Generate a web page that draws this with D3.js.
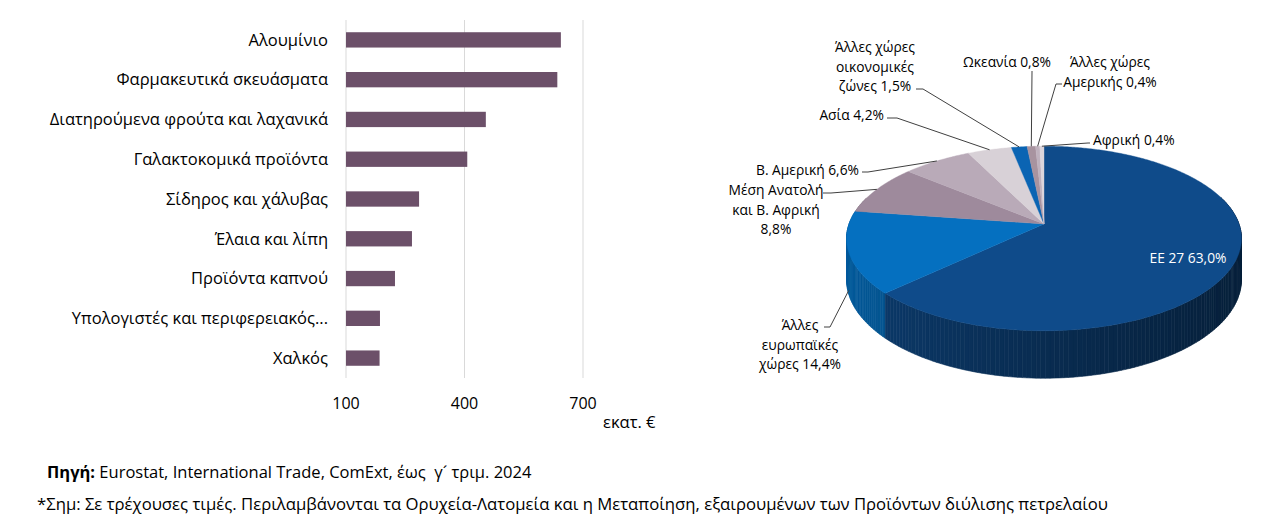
<!DOCTYPE html>
<html>
<head>
<meta charset="utf-8">
<script src="https://cdn.jsdelivr.net/npm/d3@7"></script>
<style>
  body { margin: 0; background: #fff; }
  svg { display: block; font-family: "Open Sans", sans-serif; }
</style>
</head>
<body>
<svg id="chart" width="1281" height="521"></svg>
<script>
// Bar chart data (εκατ. €)
const categories = ["Αλουμίνιο", "Φαρμακευτικά σκευάσματα", "Διατηρούμενα φρούτα και λαχανικά",
  "Γαλακτοκομικά προϊόντα", "Σίδηρος και χάλυβας", "Έλαια και λίπη", "Προϊόντα καπνού",
  "Υπολογιστές και περιφερειακός...", "Χαλκός"];
const values = [644, 635, 454, 407, 285, 267, 224, 186, 185];
const xTicks = [100, 400, 700];

// Pie data (% share), "\n" marks label line breaks
const regions = ["ΕΕ 27", "Άλλες\nευρωπαϊκές\nχώρες", "Μέση Ανατολή\nκαι Β. Αφρική\n", "Β. Αμερική",
  "Ασία", "Άλλες χώρες\nοικονομικές\nζώνες", "Ωκεανία", "Άλλες χώρες\nΑμερικής", "Αφρική"];
const shares = [63.0, 14.4, 8.8, 6.6, 4.2, 1.5, 0.8, 0.4, 0.4];
const regionColors = ["#0f4b8a", "#0570c0", "#9e8a9c", "#b9aab8", "#d8d1d7", "#0b64b3", "#a8939f", "#bfb1bd", "#dcd5db"];

const svg = d3.select("#chart");
const font = 16.5;     // bar labels, footer
const pieFont = 13.8;  // pie labels

// ---------- bar chart ----------
const x = d3.scaleLinear().domain([100, 700]).range([346, 583]);
const y = d3.scaleBand().domain(categories).range([20, 378])
  .paddingInner(0.615).paddingOuter(0.3075);

svg.append("g").selectAll("line")
  .data(xTicks)
  .join("line")
  .attr("x1", d => x(d)).attr("x2", d => x(d))
  .attr("y1", 20).attr("y2", 378)
  .attr("stroke", "#d9d9d9").attr("stroke-width", 1);

svg.append("g").selectAll("rect")
  .data(categories)
  .join("rect")
  .attr("x", x(100))
  .attr("y", d => y(d))
  .attr("width", (d, i) => x(values[i]) - x(100))
  .attr("height", y.bandwidth())
  .attr("fill", "#6c5069");

svg.append("g").selectAll("text")
  .data(categories)
  .join("text")
  .attr("x", 328)
  .attr("y", d => y(d) + y.bandwidth() / 2)
  .attr("dy", "0.35em")
  .attr("text-anchor", "end")
  .attr("font-size", font)
  .attr("fill", "#000")
  .text(d => d);

svg.append("g").selectAll("text")
  .data(xTicks)
  .join("text")
  .attr("x", d => x(d))
  .attr("y", 409)
  .attr("text-anchor", "middle")
  .attr("font-size", 16)
  .text(d => d);

svg.append("text").attr("x", 603).attr("y", 428)
  .attr("font-size", font).text("εκατ. €");

// ---------- 3D pie ----------
const cx = 1044, cy = 224, R = 195, Ry = 90, k = 0.157, D = 40;
// perspective projection of a point on the pie disc (angle clockwise from top, radius 0..1, depth 0..1)
function proj(a, r, h) {
  const u = r * Math.sin(a), v = -r * Math.cos(a);
  const w = 1 / (1 - k * v);
  return [cx + R * u * w, cy + (Ry * v + D * h) * w];
}

const pie = d3.pie().sort(null).value(d => d)(shares);
const gPie = svg.append("g");

// side walls, split into small segments, drawn back to front
const segs = [];
pie.forEach((p, i) => {
  const n = Math.max(1, Math.ceil((p.endAngle - p.startAngle) / 0.02));
  const step = (p.endAngle - p.startAngle) / n;
  for (let j = 0; j < n; j++) {
    const a0 = p.startAngle + j * step, a1 = a0 + step;
    const am = (a0 + a1) / 2;
    segs.push({ i, a0, a1, v: -Math.cos(am), u: Math.sin(am) });
  }
});
segs.filter(s => s.v > -0.3).sort((a, b) => a.v - b.v).forEach(s => {
  const pts = [proj(s.a0, 1, 0), proj(s.a1, 1, 0), proj(s.a1, 1, 1), proj(s.a0, 1, 1)];
  const c = d3.color(regionColors[s.i]).darker(0.55 + 1.9 * (s.u + 1) / 2);
  gPie.append("path")
    .attr("d", "M" + pts.join("L") + "Z")
    .attr("fill", c).attr("stroke", c).attr("stroke-width", 0.6);
});

// top faces
pie.forEach((p, i) => {
  const pts = [proj(0, 0, 0)];
  const n = Math.max(2, Math.ceil((p.endAngle - p.startAngle) / 0.01));
  for (let j = 0; j <= n; j++) {
    pts.push(proj(p.startAngle + (p.endAngle - p.startAngle) * j / n, 1, 0));
  }
  gPie.append("path")
    .attr("d", "M" + pts.join("L") + "Z")
    .attr("fill", regionColors[i]).attr("stroke", regionColors[i]).attr("stroke-width", 0.4);
});

// labels: position of text block and leader line start/elbow
const labelLayout = [
  { x: 1188, y: 263, anchor: "middle", fill: "#fff" },
  { x: 800, y: 330, anchor: "middle", from: [824, 327], elbow: [830, 327], h: 0.9 },
  { x: 776, y: 195, anchor: "middle", from: [823, 193], elbow: [831, 193] },
  { x: 859, y: 175, anchor: "end", from: [862, 172], elbow: [868, 172] },
  { x: 884, y: 120, anchor: "end", from: [887, 118], elbow: [897, 118] },
  { x: 875, y: 52, anchor: "middle", from: [916, 89], elbow: [923, 89] },
  { x: 1007, y: 67, anchor: "middle", from: [1032, 71], elbow: [1032, 72] },
  { x: 1110, y: 67, anchor: "middle", from: [1062, 84], elbow: [1056, 84] },
  { x: 1093, y: 145, anchor: "start", from: [1090, 143], elbow: [1088, 143] }
];
const fmt = v => d3.format(".1f")(v).replace(".", ",") + "%";

pie.forEach((p, i) => {
  const L = labelLayout[i];
  const name = regions[i];
  const txt = name.endsWith("\n") ? name + fmt(shares[i]) : name + " " + fmt(shares[i]);
  const lines = txt.split("\n");
  const t = gPie.append("text")
    .attr("text-anchor", L.anchor)
    .attr("font-size", pieFont)
    .attr("fill", L.fill || "#000");
  lines.forEach((ln, j) => {
    t.append("tspan").attr("x", L.x).attr("y", L.y + j * 19.5).text(ln);
  });
  if (L.from) {
    const mid = (p.startAngle + p.endAngle) / 2;
    const end = proj(mid, 1, L.h || 0);
    gPie.append("path")
      .attr("d", "M" + [L.from, L.elbow, end].join("L"))
      .attr("fill", "none").attr("stroke", "#404040").attr("stroke-width", 1);
  }
});

// ---------- footer ----------
const f1 = svg.append("text").attr("x", 47).attr("y", 478).attr("font-size", font);
f1.append("tspan").attr("font-weight", "bold").text("Πηγή:");
f1.append("tspan").text(" Eurostat, International Trade, ComExt, έως\u00A0 γ\u00B4 τριμ. 2024");
svg.append("text").attr("x", 37).attr("y", 510).attr("font-size", 16.7)
  .text("*Σημ: Σε τρέχουσες τιμές. Περιλαμβάνονται τα Ορυχεία-Λατομεία και η Μεταποίηση, εξαιρουμένων των Προϊόντων διύλισης πετρελαίου");
</script>
</body>
</html>
